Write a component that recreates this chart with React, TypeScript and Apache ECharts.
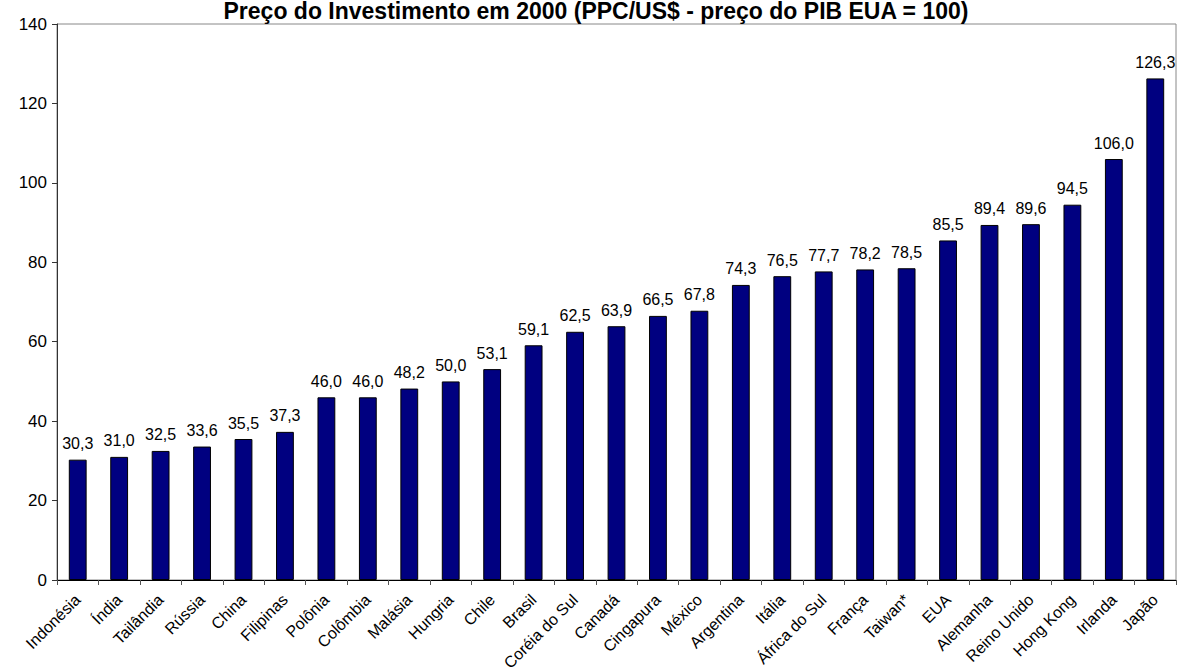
import React, { useEffect, useRef } from "react";
import * as echarts from "echarts";

const categories = [
  "Indonésia", "Índia", "Tailândia", "Rússia", "China", "Filipinas", "Polônia",
  "Colômbia", "Malásia", "Hungria", "Chile", "Brasil", "Coréia do Sul", "Canadá",
  "Cingapura", "México", "Argentina", "Itália", "África do Sul", "França",
  "Taiwan*", "EUA", "Alemanha", "Reino Unido", "Hong Kong", "Irlanda", "Japão",
];
const values = [
  30.3, 31.0, 32.5, 33.6, 35.5, 37.3, 46.0, 46.0, 48.2, 50.0, 53.1, 59.1, 62.5,
  63.9, 66.5, 67.8, 74.3, 76.5, 77.7, 78.2, 78.5, 85.5, 89.4, 89.6, 94.5, 106.0, 126.3,
];
const titleText = "Preço do Investimento em 2000 (PPC/US$ - preço do PIB EUA = 100)";

export default function App() {
  const ref = useRef<HTMLDivElement>(null);
  useEffect(() => {
    if (!ref.current) return;
    const chart = echarts.init(ref.current, null, { renderer: "svg" });
    const font = "'Liberation Sans', Arial, sans-serif";
    chart.setOption({
      animation: false,
      backgroundColor: "#ffffff",
      title: {
        text: titleText,
        left: 591,
        textAlign: "center",
        top: -6,
        textStyle: { fontFamily: font, fontSize: 23, fontWeight: "bold", color: "#000" },
      },
      grid: {
        left: 57, right: 1, top: 24, bottom: 91,
        containLabel: false, outerBoundsMode: "none",
        show: true, borderColor: "#888", borderWidth: 1,
      },
      xAxis: {
        type: "category",
        data: categories,
        axisLine: { lineStyle: { color: "#000", width: 1 } },
        axisTick: { show: true, alignWithLabel: false, length: 5, lineStyle: { color: "#555" } },
        axisLabel: {
          interval: 0,
          rotate: 45,
          fontFamily: font,
          fontSize: 16,
          color: "#000",
          margin: 17,
        },
      },
      yAxis: {
        type: "value",
        min: 0,
        max: 140,
        interval: 20,
        axisLine: { show: true, lineStyle: { color: "#333", width: 1 } },
        axisTick: { show: true, length: 5, lineStyle: { color: "#333" } },
        splitLine: { show: false },
        axisLabel: { fontFamily: font, fontSize: 17, color: "#000", margin: 10 },
      },
      series: [
        {
          type: "bar",
          data: values,
          barWidth: "43%",
          itemStyle: { color: "#000080", borderColor: "#000", borderWidth: 1 },
          label: {
            show: true,
            position: "top",
            distance: 8,
            fontFamily: font,
            fontSize: 16,
            color: "#000",
            formatter: (p: any) => Number(p.value).toFixed(1).replace(".", ","),
          },
        },
      ],
    });
    return () => chart.dispose();
  }, []);
  return <div ref={ref} style={{ width: 1177, height: 671, position: "absolute", left: 0, top: 0 }} />;
}
